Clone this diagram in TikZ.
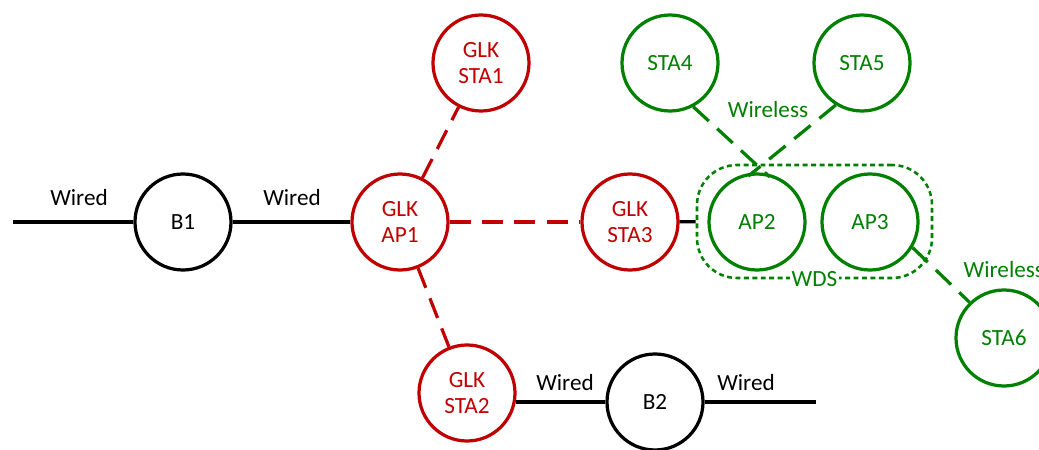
\documentclass[tikz,border=0pt]{standalone}
\usepackage{fontspec}
\setmainfont{Carlito}
\usetikzlibrary{positioning}
\definecolor{glkred}{RGB}{192,0,0}
\definecolor{wdsgreen}{RGB}{0,128,0}
\newcommand{\netFont}[0]{\fontsize{16.5}{19}\selectfont}

\begin{document}
\begin{tikzpicture}
  \tikzset{every node/.style={font=\netFont},
    dev/.style={circle,draw,line width=2.3pt,minimum size=2.4cm,inner sep=0pt,align=center},
    bridge/.style={dev,draw=black,text=black},
    glk/.style={dev,draw=glkred,text=glkred},
    wnode/.style={dev,draw=wdsgreen,text=wdsgreen},
    wired/.style={line width=2.3pt,black},
    glklink/.style={line width=2.3pt,glkred,dash pattern=on 15pt off 8pt},
    wlink/.style={line width=2.3pt,wdsgreen,dash pattern=on 15pt off 8pt},
    wdsbox/.style={draw=wdsgreen,line width=1.8pt,dash pattern=on 3.5pt off 2.5pt,rounded corners=1cm,minimum width=5.875cm,minimum height=2.825cm},
    lbl/.style={inner sep=1pt}}
  \useasboundingbox (0,0) rectangle (25.975,11.225);
  \node[bridge] (B1) at (4.575,5.675) {B1};
  \node[glk] (AP1) at (10,5.675) {GLK\\AP1};
  \node[glk] (STA1) at (12.025,9.65) {GLK\\STA1};
  \node[glk] (STA3) at (15.75,5.675) {GLK\\STA3};
  \node[glk] (STA2) at (11.675,1.4) {GLK\\STA2};
  \node[bridge] (B2) at (16.375,1.175) {B2};
  \node[wdsbox] (WDS) at (20.3625,5.6875) {};
  \node[wnode] (AP2) at (18.925,5.675) {AP2};
  \node[wnode] (AP3) at (21.75,5.675) {AP3};
  \node[wnode] (STA4) at (16.75,9.65) {STA4};
  \node[wnode] (STA5) at (21.55,9.65) {STA5};
  \node[wnode] (STA6) at (25.1,2.775) {STA6};
  \coordinate (left-end) at (0.325,5.675);
  \coordinate (right-end) at (20.4,1.175);
  \draw[wired] (left-end) -- (B1);
  \draw[wired] (B1) -- (AP1);
  \draw[wired] (STA2.-11 |- B2) -- (B2.west);
  \draw[wired] (B2) -- (right-end);
  \draw[wired] (STA3) -- (WDS);
  \draw[glklink] (AP1) -- (STA3);
  \draw[glklink] (AP1) -- (STA1);
  \draw[glklink] (AP1) -- (STA2);
  \draw[wlink,shorten >=-4pt] (STA4.-62) -- (AP2.80);
  \draw[wlink,shorten >=-4pt] (STA5.238) -- (AP2.95);
  \draw[wlink] (AP3.-31) -- (STA6.134);
  \node[lbl,text=black] (wired-1) at (1.975,6.275) {Wired};
  \node[lbl,text=black] (wired-2) at (7.3,6.275) {Wired};
  \node[lbl,text=black] (wired-3) at (14.125,1.65) {Wired};
  \node[lbl,text=black] (wired-4) at (18.65,1.65) {Wired};
  \node[lbl,text=wdsgreen] (wireless-1) at (19.2,8.475) {Wireless};
  \node[lbl,text=wdsgreen,anchor=west] (wireless-2) at (24.05,4.475) {Wireless};
  \node[lbl,text=wdsgreen,fill=white] (wds-label) at (WDS.south) {WDS};
\end{tikzpicture}
\end{document}
